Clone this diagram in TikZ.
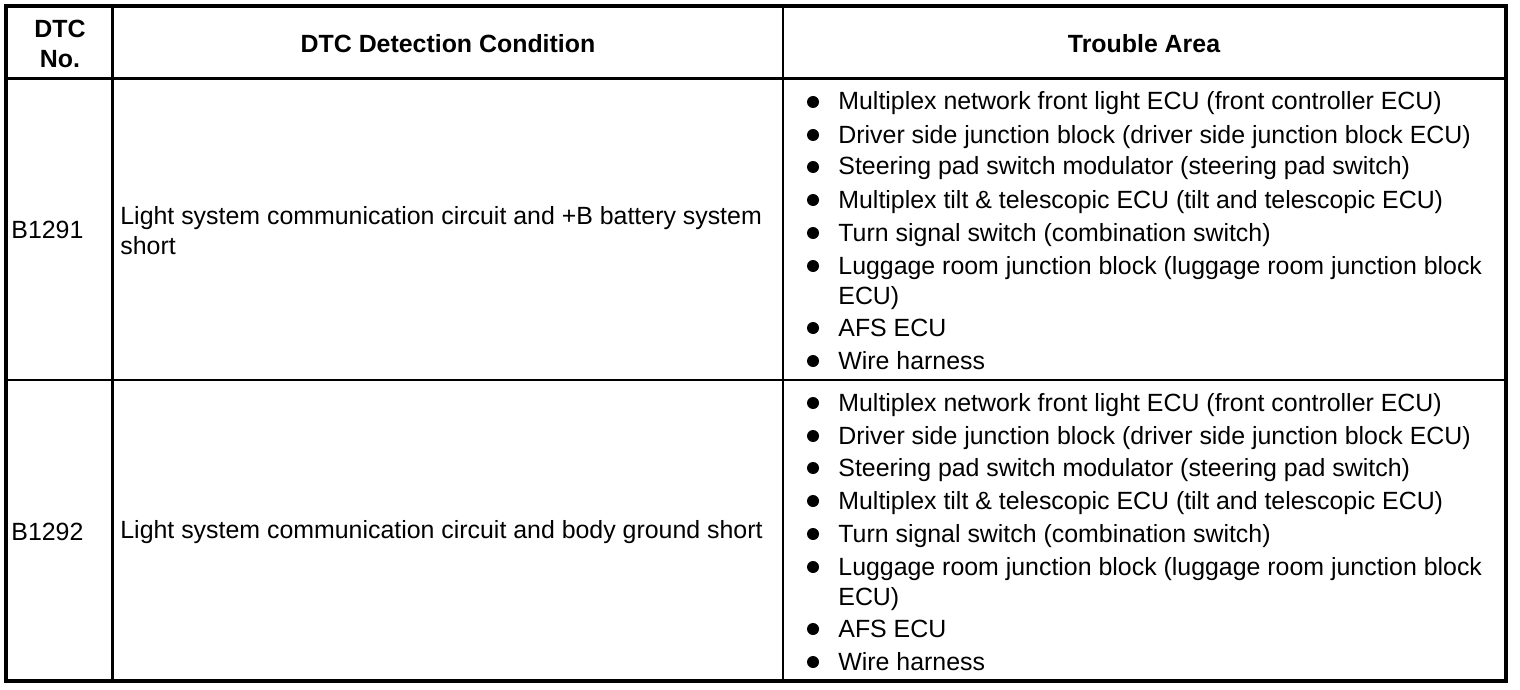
\documentclass[tikz,border=0pt]{standalone}
\usepackage{fontspec}
\setmainfont{Liberation Sans}
\usetikzlibrary{positioning}

\begin{document}
\begin{tikzpicture}[x=0.5pt, y=-0.5pt,
    txt/.style={inner sep=0pt, font=\fontsize{12.45}{15}\selectfont},
    head/.style={txt, font=\fontsize{12.45}{15}\selectfont\bfseries, align=center},
    cell/.style={txt, anchor=west, align=left},
    item/.style={txt, anchor=base west},
    dot/.style={circle, fill=black, inner sep=0pt, minimum size=6pt},
    frame/.style={line width=2pt},
    rule/.style={line width=1.2pt}]
    \useasboundingbox (0,0) rectangle (1520,690);

    \draw[rule] (112.5,6) -- (112.5,681);
    \draw[rule] (783,6) -- (783,681);
    \draw[rule] (6,78.5) -- (1505.5,78.5);
    \draw[rule] (6,380) -- (1505.5,380);
    \draw[frame] (6,6) rectangle (1505.5,681);

    \node[head] (no) at (60,44) {DTC\\No.};
    \node[head] (cond) at (448,44) {DTC Detection Condition};
    \node[head] (area) at (1144,44) {Trouble Area};

    \node[cell] (code1) at (11,230) {B1291};
    \node[cell] (text1) at (120,231) {Light system communication circuit and +B battery system\\short};
    \node[cell] (code2) at (11,532) {B1292};
    \node[cell] (text2) at (120,532) {Light system communication circuit and body ground short};

    \foreach \off/\r in {0/a, 301/b} {
        \foreach \y/\t [count=\i] in {110/{Multiplex network front light ECU (front controller ECU)},
            143/{Driver side junction block (driver side junction block ECU)},
            175/{Steering pad switch modulator (steering pad switch)},
            208/{Multiplex tilt \& telescopic ECU (tilt and telescopic ECU)},
            241/{Turn signal switch (combination switch)},
            274/{Luggage room junction block (luggage room junction block},
            336/{AFS ECU},
            369/{Wire harness}} {
            \node[dot] (\r dot\i) at (813,\y+\off-8) {};
            \node[item] (\r\i) at (838,\y+\off) {\t};
        }
        \node[item] (\r ecu) at (838,304+\off) {ECU)};
    }
\end{tikzpicture}
\end{document}
